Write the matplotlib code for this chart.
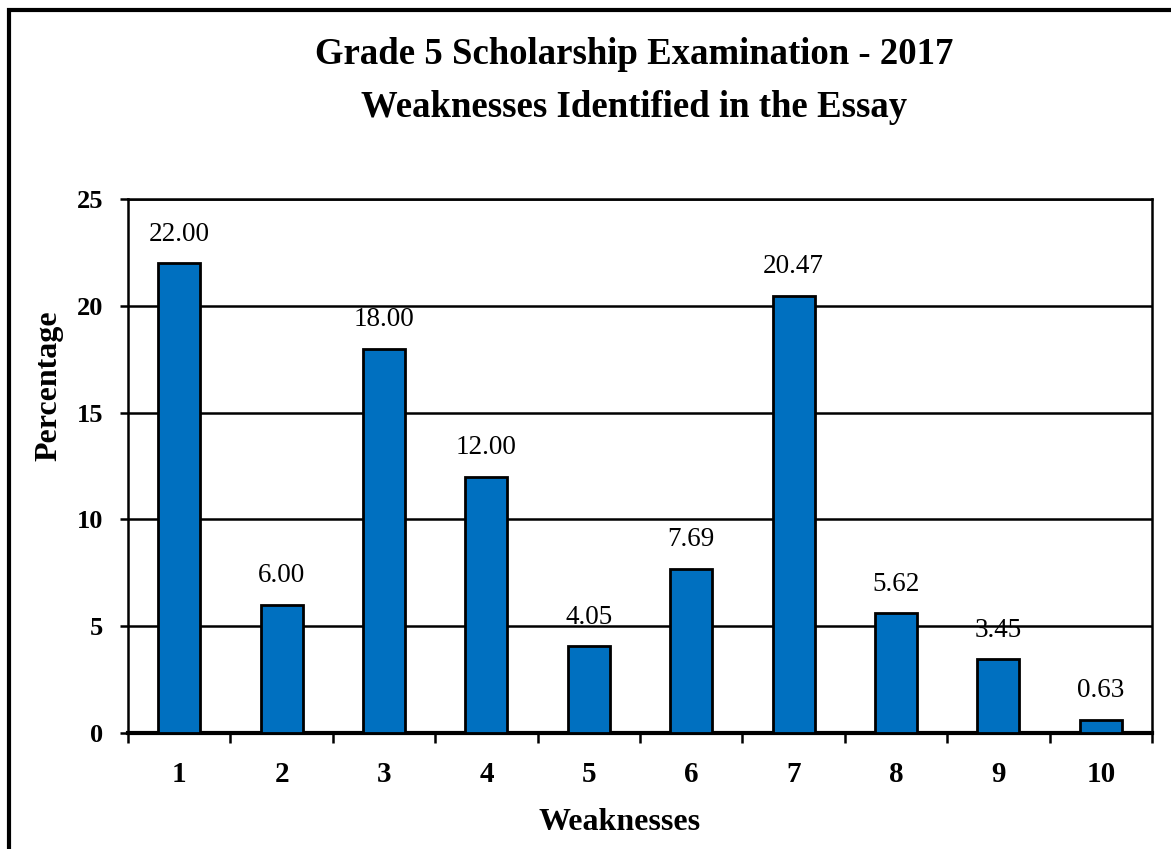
import matplotlib.pyplot as plt
from matplotlib.patches import Rectangle

plt.rcParams['font.family'] = ['Liberation Serif', 'DejaVu Serif']

weaknesses = ['1', '2', '3', '4', '5', '6', '7', '8', '9', '10']
percentages = [22.00, 6.00, 18.00, 12.00, 4.05, 7.69, 20.47, 5.62, 3.45, 0.63]
y_ticks = [0, 5, 10, 15, 20, 25]

fig = plt.figure(figsize=(11.71, 8.49), dpi=100)
ax = fig.add_axes([128 / 1171, 1 - 733 / 849, (1152 - 128) / 1171, (733 - 199) / 849])

# outer chart border (runs off the right and bottom edges)
fig.patches.append(Rectangle((8.5 / 1171, -0.1), 1.2, 1 - 9.5 / 849 + 0.1,
                             transform=fig.transFigure, fill=False,
                             edgecolor='black', linewidth=3, zorder=0))

x = list(range(len(weaknesses)))
ax.bar(x, percentages, width=0.41, color='#0070C0', edgecolor='black',
       linewidth=2.0, zorder=3)

for xi, v in zip(x, percentages):
    ax.text(xi, v + 1.05, f'{v:.2f}', ha='center', va='baseline', fontsize=19.5)

ax.set_xlim(-0.5, len(weaknesses) - 0.5)
ax.set_ylim(0, 25)
ax.set_yticks(y_ticks)
ax.set_yticklabels([str(t) for t in y_ticks], fontsize=19, fontweight='bold')
ax.set_xticks(x)
ax.set_xticklabels(weaknesses, fontsize=21, fontweight='bold')
ax.tick_params(axis='x', length=0, pad=20)
ax.set_xticks([i - 0.5 for i in range(len(weaknesses) + 1)], minor=True)
ax.tick_params(axis='x', which='minor', length=7, width=1.8, direction='out')
ax.tick_params(axis='y', length=6, width=1.8, direction='out', pad=12)

ax.yaxis.grid(True, color='black', linewidth=1.8, zorder=0)
ax.set_axisbelow(True)
for side in ['left', 'right', 'top', 'bottom']:
    ax.spines[side].set_linewidth(1.8)
ax.spines['bottom'].set_linewidth(3)

ax.set_xlabel('Weaknesses', fontsize=23, fontweight='bold')
ax.set_ylabel('Percentage', fontsize=23, fontweight='bold')
ax.xaxis.set_label_coords(0.48, -0.14)
ax.yaxis.set_label_coords(-0.063, 0.65)

title_x = 634 / 1171
fig.text(title_x, 1 - 64 / 849, 'Grade 5 Scholarship Examination - 2017',
         ha='center', va='baseline', fontsize=26.5, fontweight='bold')
fig.text(title_x, 1 - 117 / 849, 'Weaknesses Identified in the Essay',
         ha='center', va='baseline', fontsize=26.5, fontweight='bold')

fig.savefig('out.png', dpi=100)
